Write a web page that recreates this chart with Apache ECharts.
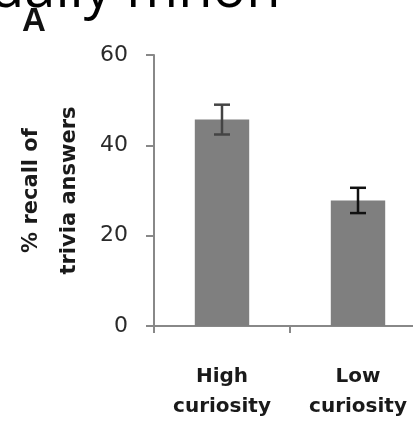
<!DOCTYPE html>
<html>
<head>
<meta charset="utf-8">
<script src="https://cdn.jsdelivr.net/npm/echarts@6/dist/echarts.min.js"></script>
<style>
  html, body { margin: 0; padding: 0; background: #fff; }
  #chart { width: 413px; height: 427px; }
</style>
</head>
<body>
<div id="chart"></div>
<script>
// Recall of trivia answers by curiosity state (mean ± SEM)
const categories = ['High\ncuriosity', 'Low\ncuriosity'];
const recall = [45.7, 27.8];
const sem = [3.3, 2.8];
const yTicks = { min: 0, max: 60, interval: 20 };
const errorColors = ['#444444', '#111111'];

const chart = echarts.init(document.getElementById('chart'), null, { renderer: 'canvas' });

const errorData = recall.map((v, i) => [i, v - sem[i], v + sem[i]]);

chart.setOption({
  animation: false,
  backgroundColor: '#ffffff',
  graphic: [
    {
      type: 'text',
      left: -10,
      top: -37,
      style: {
        text: 'ually mnon',
        font: '56px "Open Sans", "DejaVu Sans", sans-serif',
        fill: '#000000'
      }
    },
    {
      type: 'text',
      left: 22,
      top: 5,
      style: {
        text: 'A',
        font: 'bold 33px "Liberation Sans", Arial, sans-serif',
        fill: '#111111'
      }
    }
  ],
  grid: { left: 154, top: 55, width: 272, height: 271, outerBoundsMode: 'none' },
  xAxis: {
    type: 'category',
    data: categories,
    axisLine: { lineStyle: { color: '#888888', width: 2 } },
    axisTick: { show: true, length: 7, lineStyle: { color: '#888888', width: 2 } },
    axisLabel: {
      margin: 36,
      color: '#1a1a1a',
      fontFamily: '"DejaVu Sans", sans-serif',
      fontWeight: 'bold',
      fontSize: 20,
      lineHeight: 30
    }
  },
  yAxis: {
    type: 'value',
    min: yTicks.min,
    max: yTicks.max,
    interval: yTicks.interval,
    name: '% recall of\ntrivia answers',
    nameLocation: 'middle',
    nameRotate: 90,
    nameGap: 65,
    nameTextStyle: {
      color: '#1a1a1a',
      fontFamily: '"DejaVu Sans", sans-serif',
      fontWeight: 'bold',
      fontSize: 21,
      lineHeight: 38
    },
    splitLine: { show: false },
    axisLine: { show: true, lineStyle: { color: '#888888', width: 2 } },
    axisTick: { show: true, length: 8, lineStyle: { color: '#888888', width: 2 } },
    axisLabel: {
      margin: 26,
      color: '#2a2a2a',
      fontFamily: '"DejaVu Sans", sans-serif',
      fontSize: 22
    }
  },
  series: [
    {
      type: 'bar',
      data: recall,
      barWidth: '40%',
      itemStyle: { color: '#7f7f7f' }
    },
    {
      type: 'custom',
      data: errorData,
      z: 10,
      renderItem: function (params, api) {
        const i = api.value(0);
        const lo = api.coord([i, api.value(1)]);
        const hi = api.coord([i, api.value(2)]);
        const half = 8;
        const stroke = { stroke: errorColors[params.dataIndex], lineWidth: 2.5 };
        return {
          type: 'group',
          children: [
            { type: 'line', shape: { x1: lo[0], y1: lo[1], x2: hi[0], y2: hi[1] }, style: stroke },
            { type: 'line', shape: { x1: hi[0] - half, y1: hi[1], x2: hi[0] + half, y2: hi[1] }, style: stroke },
            { type: 'line', shape: { x1: lo[0] - half, y1: lo[1], x2: lo[0] + half, y2: lo[1] }, style: stroke }
          ]
        };
      }
    }
  ]
});
</script>
</body>
</html>
